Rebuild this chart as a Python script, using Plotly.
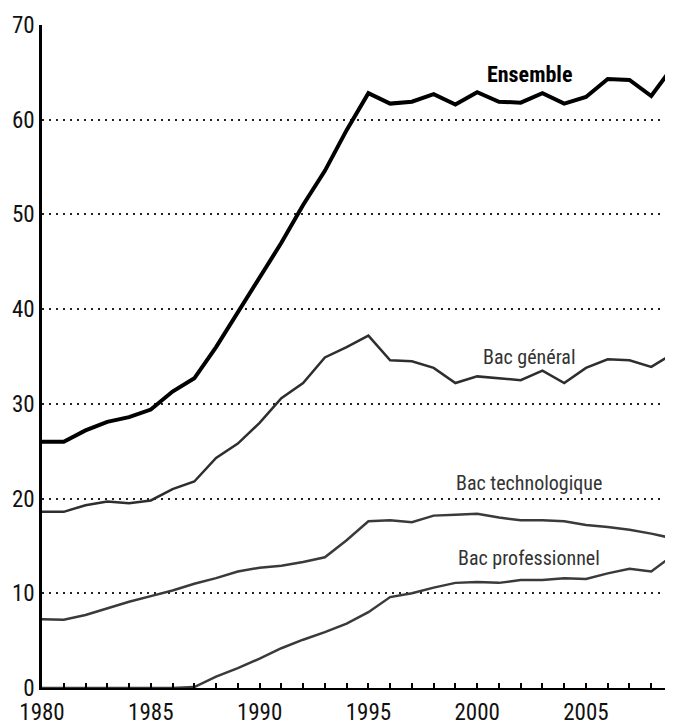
import plotly.graph_objects as go

years = list(range(1980, 2010))

ensemble = [26.0, 26.0, 27.2, 28.1, 28.6, 29.4, 31.3, 32.7, 36.0, 39.7,
            43.4, 47.0, 51.0, 54.6, 58.9, 62.8, 61.7, 61.9, 62.7, 61.6,
            62.9, 61.9, 61.8, 62.8, 61.7, 62.4, 64.3, 64.2, 62.5, 65.6]

bac_general = [18.6, 18.6, 19.3, 19.7, 19.5, 19.8, 21.0, 21.8, 24.3, 25.8,
               28.0, 30.6, 32.2, 34.9, 36.0, 37.2, 34.6, 34.5, 33.8, 32.2,
               32.9, 32.7, 32.5, 33.5, 32.2, 33.8, 34.7, 34.6, 33.9, 35.3]

bac_techno = [7.25, 7.2, 7.7, 8.4, 9.1, 9.7, 10.3, 11.0, 11.6, 12.3,
              12.7, 12.9, 13.3, 13.8, 15.6, 17.6, 17.7, 17.5, 18.2, 18.3,
              18.4, 18.0, 17.7, 17.7, 17.6, 17.2, 17.0, 16.7, 16.3, 15.8]

bac_pro = [0.0, 0.0, 0.0, 0.0, 0.0, 0.0, 0.0, 0.1, 1.2, 2.1,
           3.1, 4.2, 5.1, 5.9, 6.8, 8.0, 9.6, 10.0, 10.6, 11.1,
           11.2, 11.1, 11.4, 11.4, 11.6, 11.5, 12.1, 12.6, 12.3, 14.0]

labels = [("Ensemble", 2002.4, 64.8, True),
          ("Bac général", 2002.4, 35.0, False),
          ("Bac technologique", 2002.4, 21.6, False),
          ("Bac professionnel", 2002.4, 13.7, False)]

FONT = "Liberation Sans Narrow, Arial Narrow, Roboto Condensed, Liberation Sans, sans-serif"

fig = go.Figure()
fig.add_trace(go.Scatter(x=years, y=bac_pro, mode="lines",
                         line=dict(color="#3a3a3a", width=2.5), hoverinfo="skip"))
fig.add_trace(go.Scatter(x=years, y=bac_techno, mode="lines",
                         line=dict(color="#3a3a3a", width=2.5), hoverinfo="skip"))
fig.add_trace(go.Scatter(x=years, y=bac_general, mode="lines",
                         line=dict(color="#2e2e2e", width=2.5), hoverinfo="skip"))
fig.add_trace(go.Scatter(x=years, y=ensemble, mode="lines",
                         line=dict(color="#000000", width=4), hoverinfo="skip"))

for text, x, y, bold in labels:
    fig.add_annotation(x=x, y=y, xref="x", yref="y", showarrow=False,
                       text=f"<b>{text}</b>" if bold else text,
                       font=dict(family=FONT, size=22 if bold else 20,
                                 color="#000000" if bold else "#333333"))

# page body has an 8px margin: figure is sized/offset to fit the window
fig.update_layout(
    width=665, height=719,
    margin=dict(l=34, r=0, t=17, b=39),
    paper_bgcolor="white", plot_bgcolor="white",
    showlegend=False,
    font=dict(family=FONT, size=23, color="#111111"),
)
fig.update_xaxes(
    range=[1980, 2009],
    automargin=False,
    tickmode="array",
    tickvals=years,
    ticktext=[str(y) if y % 5 == 0 else "" for y in years],
    ticks="inside", ticklen=5, tickwidth=1.5, tickcolor="black",
    ticklabelstandoff=2,
    showline=True, linecolor="black", linewidth=2,
    showgrid=False, zeroline=False,
    tickfont=dict(family=FONT, size=23, color="#111111"),
)
fig.update_yaxes(
    range=[0, 70],
    automargin=False,
    tickvals=[0, 10, 20, 30, 40, 50, 60, 70],
    ticks="", showline=True, linecolor="black", linewidth=2.5,
    showgrid=True, gridcolor="#222222", gridwidth=2, griddash="2px,5px",
    zeroline=False,
    tickfont=dict(family=FONT, size=23, color="#111111"),
)

fig.write_html("out.html")
